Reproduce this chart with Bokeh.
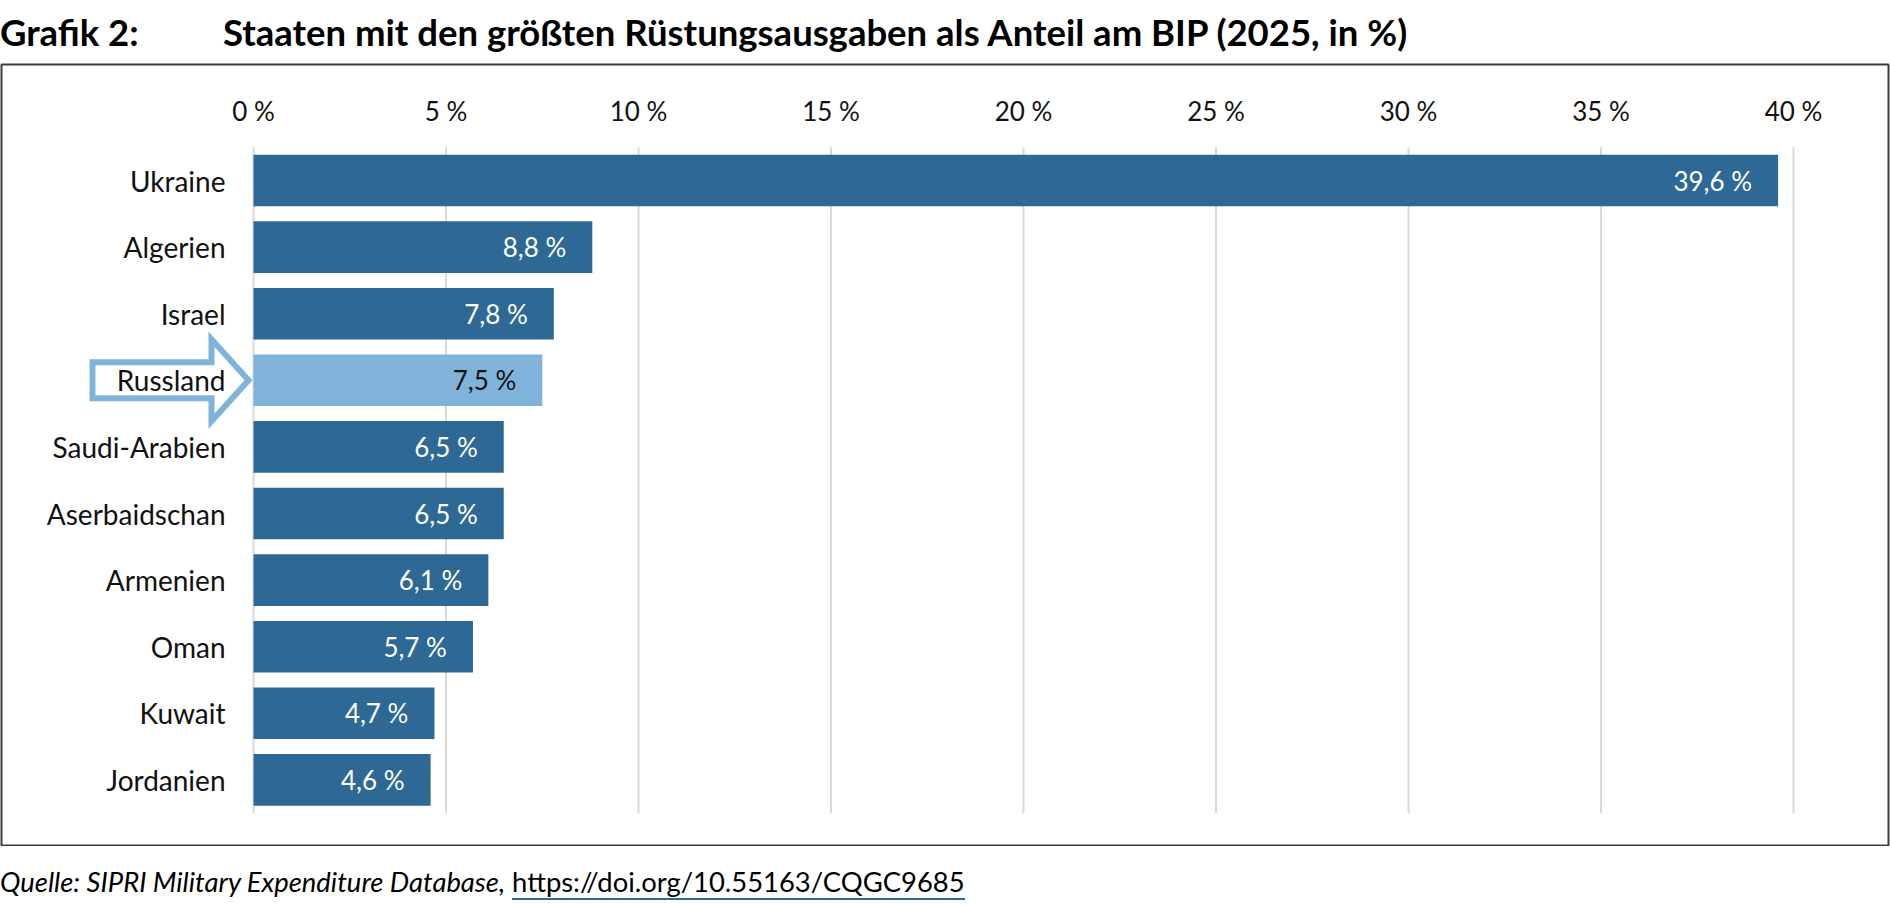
from bokeh.plotting import figure
from bokeh.models import ColumnDataSource, Div, Range1d
from bokeh.layouts import column
from bokeh.embed import file_html
from bokeh.resources import INLINE
from bokeh.core.properties import value

# --- data -------------------------------------------------------------
countries = ["Ukraine", "Algerien", "Israel", "Russland", "Saudi-Arabien",
             "Aserbaidschan", "Armenien", "Oman", "Kuwait", "Jordanien"]
shares = [39.6, 8.8, 7.8, 7.5, 6.5, 6.5, 6.1, 5.7, 4.7, 4.6]
highlight = "Russland"
tick_values = [0, 5, 10, 15, 20, 25, 30, 35, 40]
tick_labels = ["0 %", "5 %", "10 %", "15 %", "20 %", "25 %", "30 %", "35 %", "40 %"]

title_prefix = "Grafik 2:"
title_text = "Staaten mit den größten Rüstungsausgaben als Anteil am BIP (2025, in %)"
source_text = "Quelle: SIPRI Military Expenditure Database,"
source_link = "https://doi.org/10.55163/CQGC9685"

# --- style ------------------------------------------------------------
DARK = "#2e6894"
LIGHT = "#80b3da"
GRID = "#d9d9d9"
FONT = "Lato"

# scale: pixels per percentage point and per row
PX_X = 38.5
PX_Y = 66.6
W, H = 1890, 783
FRAME_L, FRAME_R, FRAME_T, FRAME_B = 1, 2, 1, 1
ZERO_PX = 252          # x=0 distance from frame left
ROW0_PX = 116          # first row centre distance from frame top

frame_w = W - FRAME_L - FRAME_R
frame_h = H - FRAME_T - FRAME_B
x0 = -ZERO_PX / PX_X
y_top = -ROW0_PX / PX_Y

n = len(countries)
rows = list(range(n))
src = ColumnDataSource(dict(
    row=rows,
    country=countries,
    share=shares,
    label=[f"{v:.1f} %".replace(".", ",") for v in shares],
    color=[LIGHT if c == highlight else DARK for c in countries],
    label_color=["#111111" if c == highlight else "white" for c in countries],
))

p = figure(width=W, height=H, output_backend="svg", toolbar_location=None,
           x_range=Range1d(x0, x0 + frame_w / PX_X),
           y_range=Range1d(y_top + frame_h / PX_Y, y_top),
           x_axis_location=None, y_axis_location=None,
           min_border_left=FRAME_L, min_border_right=FRAME_R,
           min_border_top=FRAME_T, min_border_bottom=FRAME_B)
p.grid.visible = False
p.outline_line_color = "#3c3c3c"
p.outline_line_width = 2
p.background_fill_color = "white"
p.border_fill_color = "white"

# vertical gridlines spanning the bar rows
p.segment(x0=tick_values, x1=tick_values, y0=-0.5, y1=n - 0.5,
          line_color=GRID, line_width=2)

# bars
p.hbar(y="row", left=0, right="share", height=0.775, fill_color="color",
       line_color=None, source=src)

# outlined arrow pointing at the highlighted country
r = countries.index(highlight)
arrow_px = [(-5, 0), (-42, -41), (-42, -18), (-161, -18),
            (-161, 18), (-42, 18), (-42, 41)]
p.patch(x=[dx / PX_X for dx, dy in arrow_px],
        y=[r + dy / PX_Y for dx, dy in arrow_px],
        fill_color="white", line_color=LIGHT, line_width=6, line_join="miter")

# category labels
p.text(x=-28 / PX_X, y="row", text="country", source=src,
       text_align="right", text_baseline="middle",
       text_font=value(FONT), text_font_size="28px", text_color="#111111")

# value labels inside the bars
p.text(x="share", y="row", text="label", source=src, x_offset=-26,
       text_align="right", text_baseline="middle",
       text_font=value(FONT), text_font_size="26px", text_color="label_color")

# percentage scale along the top
p.text(x=tick_values, y=-70 / PX_Y, text=tick_labels,
       text_align="center", text_baseline="middle",
       text_font=value(FONT), text_font_size="26px", text_color="#111111")

title = Div(
    text=(f'<div style="position:relative;width:1890px;height:63px;'
          f'font-family:{FONT};font-weight:bold;font-size:36.5px;color:#000;">'
          f'<span style="position:absolute;left:0px;top:6px;white-space:nowrap;">{title_prefix}</span>'
          f'<span style="position:absolute;left:223px;top:6px;white-space:nowrap;">{title_text}</span>'
          f'</div>'),
    width=W, height=63, margin=(0, 0, 0, 0))

source = Div(
    text=(f'<div style="position:relative;width:1890px;height:62px;'
          f'font-family:{FONT};font-size:27.4px;color:#000;">'
          f'<span style="position:absolute;left:0px;top:16px;white-space:nowrap;">'
          f'<i>{source_text}</i> '
          f'<span style="border-bottom:2px solid {DARK};">{source_link}</span>'
          f'</span></div>'),
    width=W, height=62, margin=(0, 0, 0, 0))

layout = column(title, p, source, spacing=0)
open("out.html", "w").write(file_html(layout, INLINE))
